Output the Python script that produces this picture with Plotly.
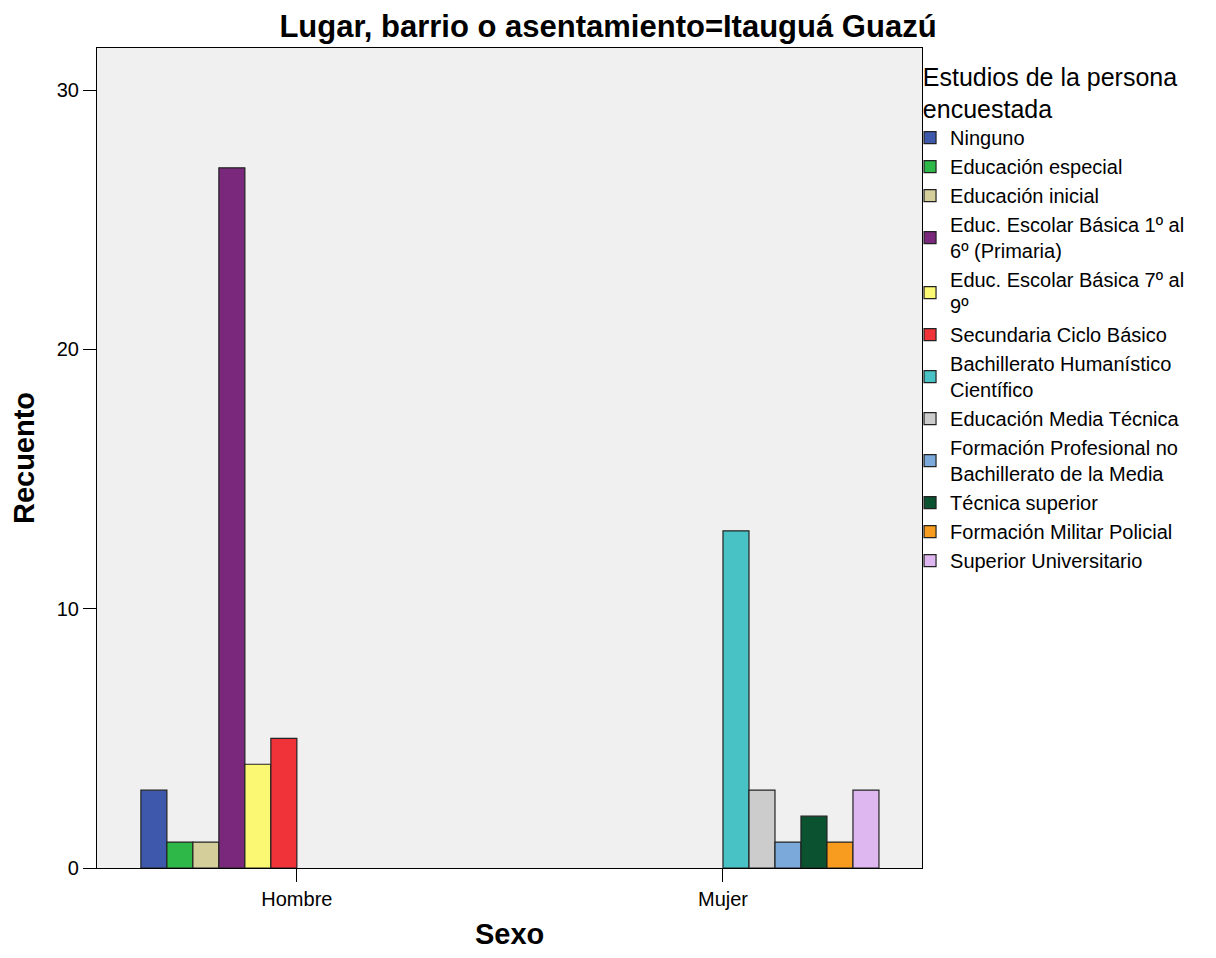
import plotly.graph_objects as go

# categories on the x axis
sexo = ["Hombre", "Mujer"]

# education levels (legend order) and their colours
niveles = [
    "Ninguno",
    "Educación especial",
    "Educación inicial",
    "Educ. Escolar Básica 1º al<br>6º (Primaria)",
    "Educ. Escolar Básica 7º al<br>9º",
    "Secundaria Ciclo Básico",
    "Bachillerato Humanístico<br>Científico",
    "Educación Media Técnica",
    "Formación Profesional no<br>Bachillerato de la Media",
    "Técnica superior",
    "Formación Militar Policial",
    "Superior Universitario",
]
colores = [
    "#3E58AC", "#2EB848", "#D4CE9A", "#7A287C", "#FBF873", "#EF3338",
    "#48C2C5", "#CCCCCC", "#7BA9D9", "#0A5230", "#F89C1F", "#DFB7F0",
]

# counts per level: [Hombre, Mujer]  (None = no bar drawn)
hombre = [3, 1, 1, 27, 4, 5, None, None, None, None, None, None]
mujer = [None, None, None, None, None, None, 13, 3, 1, 2, 1, 3]

font = "Arial, Liberation Sans, sans-serif"

fig = go.Figure()
for i, nivel in enumerate(niveles):
    fig.add_trace(go.Bar(
        x=sexo,
        y=[hombre[i], mujer[i]],
        name=nivel,
        marker=dict(color=colores[i], line=dict(color="#222222", width=1.2)),
    ))

# page body adds an 8px offset, so the figure is 16px smaller than the window
fig.update_layout(
    width=1200,
    height=942,
    margin=dict(l=89, r=286, t=40, b=82),
    paper_bgcolor="white",
    plot_bgcolor="#F0F0F0",
    font=dict(family=font, color="black"),
    barmode="group",
    bargap=0.268,
    bargroupgap=0,
    title=dict(
        text="<b>Lugar, barrio o asentamiento=Itauguá Guazú</b>",
        x=0.5, xref="container", xanchor="center",
        y=1 - 18 / 942, yanchor="middle",
        font=dict(size=31, family=font),
    ),
    legend=dict(
        title=dict(text="Estudios de la persona<br>encuestada", side="top center",
                   font=dict(size=25)),
        x=0.9855, xanchor="left", y=0.9937, yanchor="top",
        font=dict(size=20),
        bgcolor="rgba(0,0,0,0)",
        tracegroupgap=0,
        itemwidth=30,
    ),
    showlegend=True,
)

# x axis title as an annotation, just above the bottom edge
fig.add_annotation(
    text="<b>Sexo</b>", xref="paper", yref="paper", x=0.5, y=0,
    xanchor="center", yanchor="middle", yshift=-66,
    showarrow=False, font=dict(size=29),
)

fig.update_xaxes(
    range=[-0.469, 1.467],
    showline=True, linecolor="black", linewidth=1.2, mirror=True,
    ticks="outside", ticklen=13, tickcolor="black",
    tickfont=dict(size=20),
    showgrid=False, automargin=False,
)
fig.update_yaxes(
    range=[0, 31.62],
    tickvals=[0, 10, 20, 30],
    showline=True, linecolor="black", linewidth=1.2, mirror=True,
    ticks="outside", ticklen=13, tickcolor="black",
    tickfont=dict(size=20),
    showgrid=False, zeroline=False, automargin=False,
    title=dict(text="<b>Recuento</b>", font=dict(size=29), standoff=18),
)

fig.write_html("out.html")
